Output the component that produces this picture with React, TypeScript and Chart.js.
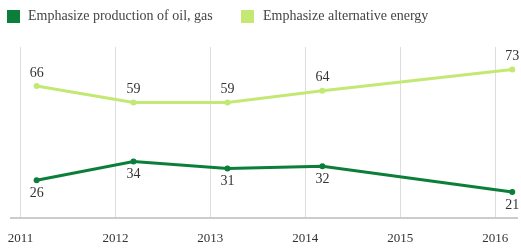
import React, { useEffect, useRef } from "react";
import { Chart, registerables } from "chart.js";

Chart.register(...registerables);

const surveyDates = [2011.17, 2012.19, 2013.18, 2014.18, 2016.18];
const oilGas = [26, 34, 31, 32, 21];
const alternative = [66, 59, 59, 64, 73];
const yearTicks = [2011, 2012, 2013, 2014, 2015, 2016];
const seriesNames = ["Emphasize production of oil, gas", "Emphasize alternative energy"];
const darkGreen = "#0B7F3A";
const lightGreen = "#C4E874";
const FONT = "'Liberation Serif', 'Times New Roman', serif";

const labelPlugin = {
  id: "valueLabels",
  afterDatasetsDraw(chart: any) {
    const ctx = chart.ctx;
    ctx.save();
    ctx.font = `14px ${FONT}`;
    ctx.fillStyle = "#333";
    ctx.textAlign = "center";
    ctx.textBaseline = "middle";
    chart.data.datasets.forEach((ds: any, i: number) => {
      const meta = chart.getDatasetMeta(i);
      meta.data.forEach((pt: any, j: number) => {
        const dy = i === 0 ? 13 : -13;
        ctx.fillText(String(ds.data[j].y), pt.x, pt.y + dy);
      });
    });
    ctx.restore();
  },
};

export default function App() {
  const ref = useRef<HTMLCanvasElement>(null);
  useEffect(() => {
    document.body.style.margin = "0";
    const chart = new Chart(ref.current!, {
      type: "line",
      data: {
        datasets: [
          {
            label: seriesNames[0],
            data: surveyDates.map((x, i) => ({ x, y: oilGas[i] })),
            borderColor: darkGreen,
            backgroundColor: darkGreen,
            borderWidth: 3,
            pointRadius: 3,
            pointBorderWidth: 0,
          },
          {
            label: seriesNames[1],
            data: surveyDates.map((x, i) => ({ x, y: alternative[i] })),
            borderColor: lightGreen,
            backgroundColor: lightGreen,
            borderWidth: 3,
            pointRadius: 3,
            pointBorderWidth: 0,
          },
        ],
      },
      options: {
        animation: false,
        responsive: false,
        layout: { padding: { top: 47, left: 11, right: 0, bottom: 0 } },
        plugins: { legend: { display: false }, tooltip: { enabled: false } },
        scales: {
          x: {
            type: "linear",
            min: 2010.9,
            max: 2016.23,
            afterBuildTicks: (scale: any) => {
              scale.ticks = yearTicks.map((v) => ({ value: v }));
            },
            afterFit: (scale: any) => {
              scale.height = 30;
              scale.paddingLeft = 0;
              scale.paddingRight = 0;
            },
            grid: { color: "#dddddd", drawTicks: false, lineWidth: 1 },
            border: { color: "#cccccc", width: 2 },
            ticks: {
              padding: 13,
              color: "#333",
              font: { family: FONT, size: 13 },
              maxRotation: 0,
              autoSkip: false,
              callback: (v: any) => String(v),
            },
          },
          y: {
            display: false,
            min: 10,
            max: 82.6,
          },
        },
      },
      plugins: [labelPlugin],
    });
    return () => chart.destroy();
  }, []);

  return (
    <div style={{ position: "relative", width: 521, height: 248 }}>
      <canvas ref={ref} width={521} height={248} style={{ display: "block" }} />
      <div
        style={{
          position: "absolute",
          left: 7,
          top: 8,
          display: "flex",
          alignItems: "center",
          font: `14px ${FONT}`,
          color: "#444",
          whiteSpace: "nowrap",
        }}
      >
        <span style={{ width: 13, height: 13, background: darkGreen, display: "inline-block", marginRight: 8 }} />
        <span style={{ width: 213 }}>{seriesNames[0]}</span>
        <span style={{ width: 13, height: 13, background: lightGreen, display: "inline-block", marginRight: 9 }} />
        <span>{seriesNames[1]}</span>
      </div>
    </div>
  );
}
